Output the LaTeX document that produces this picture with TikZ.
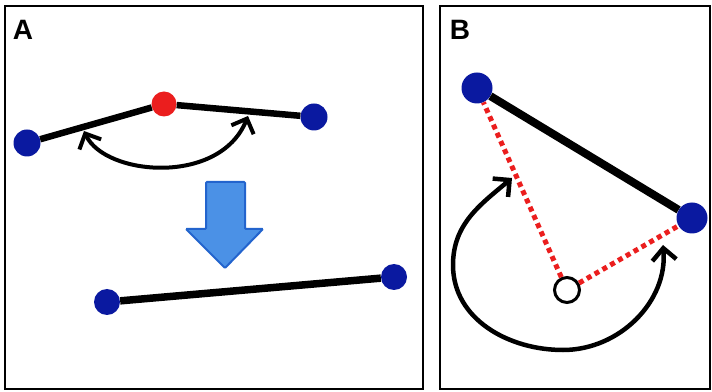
\documentclass[tikz,border=0pt]{standalone}
\usepackage{fontspec}
\setmainfont{Liberation Sans}
\usetikzlibrary{arrows.meta, calc, positioning}
\definecolor{dotblue}{RGB}{10,25,160}
\definecolor{dotred}{RGB}{235,30,30}
\definecolor{arrowblue}{RGB}{75,145,230}
\definecolor{arrowedge}{RGB}{35,100,205}
\tikzset{
    bluedot/.style={circle, fill=dotblue, inner sep=0pt, minimum size=27pt},
    bigdot/.style={bluedot, minimum size=31pt},
    reddot/.style={circle, fill=dotred, inner sep=0pt, minimum size=25pt},
    pivot/.style={circle, draw, line width=3pt, fill=white, inner sep=0pt, minimum size=25pt},
    rod/.style={line width=6.5pt},
    reach/.style={dotred, line width=5pt, dash pattern=on 5pt off 4pt},
    turn/.style={<->, >={Straight Barb[length=12pt, width=24pt]}, line width=4pt},
    panel/.style={draw, line width=2.2pt},
    tag/.style={font=\fontsize{28}{28}\selectfont\bfseries},
}

\begin{document}
\begin{tikzpicture}[x=1pt, y=1pt]
        \useasboundingbox (0,0) rectangle (712,391);

        % panel A
        \draw[panel] (5,2) rectangle (423,385);
        \node[tag] (tagA) at (23,361) {A};
        \node[bluedot] (L) at (27,248) {};
        \node[reddot] (M) at (164,287) {};
        \node[bluedot] (R) at (314,274) {};
        \draw[rod] (L) -- (M);
        \draw[rod] (M) -- (R);
        \coordinate (bendL) at (84,260);
        \coordinate (bendR) at (248,275);
        \draw[turn] (bendL) .. controls (105,215) and (220,205) .. (bendR);

        \draw[fill=arrowblue, draw=arrowedge, line width=2pt, rounded corners=1pt]
            (206,209) -- (245,209) -- (245,162) -- (263,162) -- (225,123) -- (186,162) -- (206,162) -- cycle;

        \node[bluedot, minimum size=26pt] (S1) at (107,89) {};
        \node[bluedot, minimum size=26pt] (S2) at (394,114) {};
        \draw[rod, line width=7.5pt] (S1) -- (S2);

        % panel B
        \draw[panel] (440,2) rectangle (710,385);
        \node[tag] (tagB) at (460,361) {B};
        \node[bigdot] (P) at (477,303) {};
        \node[bigdot] (Q) at (692,173) {};
        \node[pivot] (O) at (567,101) {};
        \draw[rod, line width=8pt] (P) -- (Q);
        \draw[reach] (O) -- (P);
        \draw[reach] (O) -- (Q);
        \coordinate (spinL) at (512,213);
        \coordinate (spinR) at (663,146);
        \draw[turn, line width=4.5pt] (spinL) to[out=220, in=90] (453,126)
            to[out=270, in=180] (563,41) to[out=0, in=275] (spinR);

    \end{tikzpicture}
\end{document}
